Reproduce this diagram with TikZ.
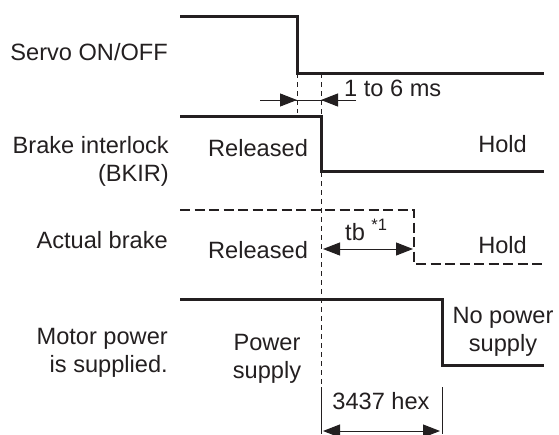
\documentclass[tikz,border=0pt]{standalone}
\usepackage{fontspec}
\setmainfont{Liberation Sans}
\usetikzlibrary{arrows.meta, positioning}
\definecolor{ink}{HTML}{231F20}

\begin{document}
\begin{tikzpicture}[x=1pt, y=-1pt,
    every node/.style={font=\fontsize{23.6}{28}\selectfont, text=ink, inner sep=0pt},
    sig/.style={draw=ink, line width=3pt},
    sigdash/.style={draw=ink, line width=1.2pt, dash pattern=on 10pt off 4.5pt},
    guide/.style={draw=ink, line width=0.9pt, dash pattern=on 5pt off 4pt},
    dim/.style={draw=ink, line width=1pt},
    tip/.style={-{Triangle[length=17pt, width=13pt]}},
    both/.style={{Triangle[length=17pt, width=13pt]}-{Triangle[length=17pt, width=13pt]}}]
  \useasboundingbox (0,0) rectangle (559,434);

  % signal names
  \node[anchor=base east] (servolbl) at (168,60) {Servo ON/OFF};
  \node[anchor=base east, align=right] (bkirlbl) at (169,181) {Brake interlock\\(BKIR)};
  \node[anchor=base east] (brakelbl) at (168,248) {Actual brake};
  \node[anchor=base east, align=right] (motorlbl) at (168,372) {Motor power\\is supplied.};

  % waveforms
  \draw[sig] (180,16) -- (297,16) -- (297,73) -- (544,73);
  \draw[sig] (180,116) -- (321,116) -- (321,171) -- (544,171);
  \draw[sigdash] (180,210) -- (414,210) -- (414,264) -- (544,264);
  \draw[sig] (180,299) -- (442,299) -- (442,365) -- (544,365);

  % states
  \node[anchor=base west] (bkirrel) at (208,156) {Released};
  \node[anchor=base east] (bkirhold) at (527,152) {Hold};
  \node[anchor=base west] (brakerel) at (208,258) {Released};
  \node[anchor=base east] (brakehold) at (527,253) {Hold};
  \node[anchor=base, align=center] (pwr) at (267,378) {Power\\supply};
  \node[anchor=base, align=center] (nopwr) at (503,351) {No power\\supply};

  % guides
  \draw[guide] (297,73) -- (297,113);
  \draw[guide] (321,73) -- (321,387);
  \draw[dim] (321,387) -- (321,434);
  \draw[dim] (442,387) -- (442,434);

  % 1 to 6 ms
  \coordinate (dtL) at (260,100);
  \coordinate (dtA) at (297,100);
  \coordinate (dtB) at (321,100);
  \coordinate (dtR) at (356,100);
  \draw[dim] (dtL) -- (dtR);
  \draw[dim, tip] (dtL) -- (dtA);
  \draw[dim, tip] (dtR) -- (dtB);
  \node[anchor=base west] (dtlbl) at (344,96) {1 to 6 ms};

  % tb
  \coordinate (tbL) at (323,249);
  \coordinate (tbR) at (413,249);
  \draw[dim, both] (tbL) -- (tbR);
  \node[anchor=base west] (tblbl) at (345,240) {tb \textsuperscript{*1}};

  % 3437 hex
  \coordinate (hexL) at (323,431);
  \coordinate (hexR) at (440,431);
  \draw[dim, both] (hexL) -- (hexR);
  \node[anchor=base] (hexlbl) at (381,409) {3437 hex};
\end{tikzpicture}
\end{document}
